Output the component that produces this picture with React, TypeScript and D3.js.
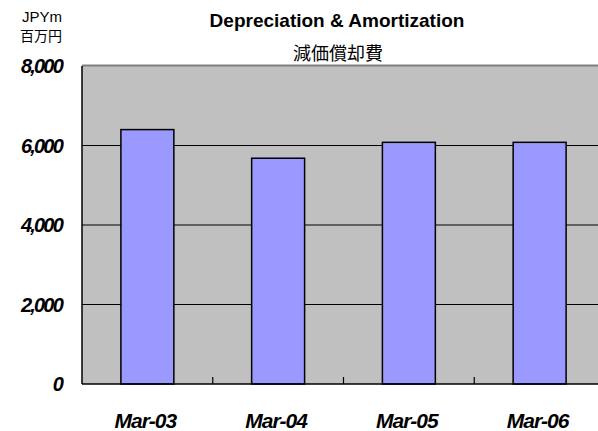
import React from "react";
import * as d3 from "d3";

const categories = ["Mar-03", "Mar-04", "Mar-05", "Mar-06"];
const values = [6400, 5680, 6080, 6080];
const yTicks = [0, 2000, 4000, 6000, 8000];
const title = "Depreciation & Amortization";
const subtitle = "減価償却費";
const unitEn = "JPYm";
const unitJa = "百万円";

export default function App() {
  const W = 598, H = 431;
  const left = 82, top = 66, bottom = 384;
  const x = d3.scaleBand<string>().domain(categories).range([left, 605]).paddingInner(0.595).paddingOuter(0.2975);
  const xc = d3.scaleBand<string>().domain(categories).range([left, 605]);
  const y = d3.scaleLinear().domain([0, 8000]).range([bottom, top]);
  const fmt = d3.format(",");
  const font = "Arial, 'Liberation Sans', sans-serif";
  return (
    <svg width={W} height={H} style={{ position: "absolute", left: 0, top: 0, background: "#fff" }} fontFamily={font}>
      <rect x={left} y={top} width={W - left} height={bottom - top} fill="#C0C0C0" />
      <line x1={left} x2={W} y1={top - 0.5} y2={top - 0.5} stroke="#808080" strokeWidth={2} />
      {yTicks.filter(t => t > 0 && t < 8000).map(t => (
        <line key={t} x1={left} x2={W} y1={y(t)} y2={y(t)} stroke="#000" strokeWidth={1.2} />
      ))}
      {categories.map((c, i) => (
        <rect key={c} x={x(c)} y={y(values[i])} width={x.bandwidth()} height={bottom - y(values[i])}
          fill="#9999FF" stroke="#000" strokeWidth={1.5} />
      ))}
      <line x1={left} x2={left} y1={top} y2={bottom} stroke="#000" strokeWidth={1.5} />
      <line x1={left} x2={W} y1={bottom} y2={bottom} stroke="#000" strokeWidth={1.5} />
      {categories.slice(1).map(c => (
        <line key={c} x1={xc(c)} x2={xc(c)} y1={bottom} y2={bottom - 7} stroke="#000" strokeWidth={1.2} />
      ))}
      {yTicks.map(t => (
        <text key={t} x={62} y={y(t)} dy="0.36em" textAnchor="end" fontWeight="bold" fontStyle="italic" fontSize={20} letterSpacing={-1.8}>{fmt(t)}</text>
      ))}
      {categories.map(c => (
        <text key={c} x={xc(c)! + xc.bandwidth() / 2 - 2} y={428} textAnchor="middle" fontWeight="bold" fontStyle="italic" fontSize={21} letterSpacing={-1}>{c}</text>
      ))}
      <text x={62} y={22} textAnchor="end" fontSize={15}>{unitEn}</text>
      <text x={62} y={41} textAnchor="end" fontSize={14} fontFamily="'Noto Sans CJK JP', sans-serif">{unitJa}</text>
      <text x={337} y={27} textAnchor="middle" fontWeight="bold" fontSize={19}>{title}</text>
      <text x={338} y={60} textAnchor="middle" fontSize={18} fontFamily="'Noto Sans CJK JP', sans-serif">{subtitle}</text>
    </svg>
  );
}
